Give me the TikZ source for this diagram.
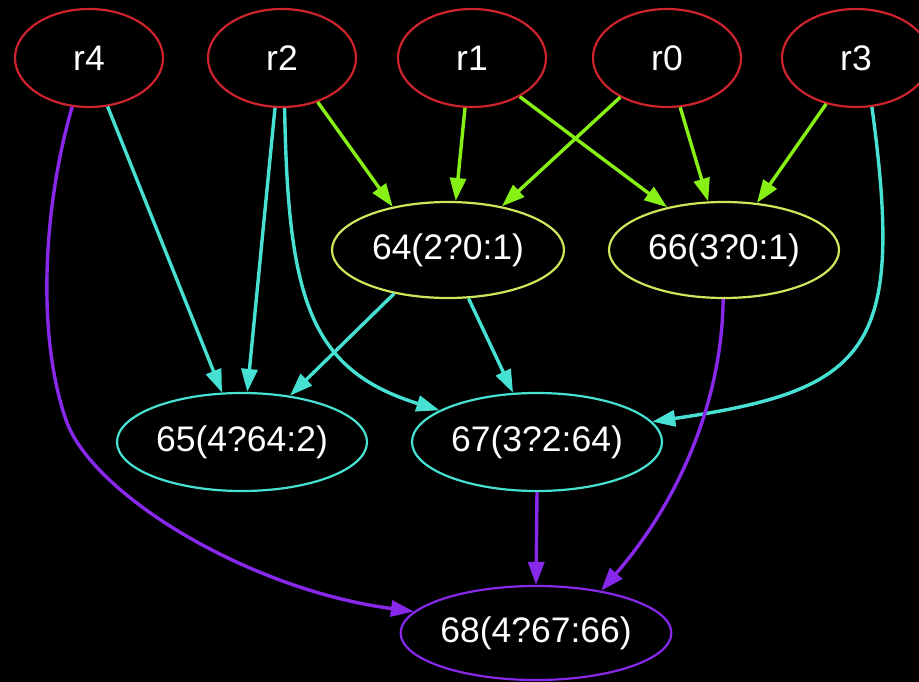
\documentclass[tikz,border=0pt]{standalone}
\usepackage{fontspec}
\setmainfont{Liberation Sans}
\usetikzlibrary{shapes.geometric,arrows.meta}
\definecolor{rcol}{RGB}{205,35,45}
\definecolor{ycol}{RGB}{205,230,90}
\definecolor{ccol}{RGB}{70,225,210}
\definecolor{pcol}{RGB}{135,40,235}
\definecolor{gcol}{RGB}{135,240,20}
\begin{document}
\begin{tikzpicture}[x=1pt,y=-1pt,
  nd/.style={ellipse, draw, line width=2.2pt, inner sep=0pt, text=white, font=\fontsize{35.5}{40}\selectfont},
  topn/.style={nd, draw=rcol, minimum width=148pt, minimum height=98pt},
  midn/.style={nd, draw=ycol, minimum height=96pt},
  lown/.style={nd, draw=ccol, minimum width=250pt, minimum height=98pt},
  botn/.style={nd, draw=pcol, minimum width=268pt, minimum height=94pt},
  edge/.style={line width=3.4pt, -{Triangle[length=23pt,width=16pt]}},
  ge/.style={edge, draw=gcol},
  ce/.style={edge, draw=ccol},
  pe/.style={edge, draw=pcol}
]
\fill[black] (0,0) rectangle (919,682);
\useasboundingbox (0,0) rectangle (919,682);

\node[topn] (r4) at (89,58) {r4};
\node[topn] (r2) at (282,58) {r2};
\node[topn] (r1) at (472,58) {r1};
\node[topn] (r0) at (667,58) {r0};
\node[topn] (r3) at (856,58) {r3};
\node[midn, minimum width=232pt] (n64) at (448,250) {64(2?0:1)};
\node[midn, minimum width=230pt] (n66) at (724,250) {66(3?0:1)};
\node[lown] (n65) at (242,442) {65(4?64:2)};
\node[lown] (n67) at (537,442) {67(3?2:64)};
\node[botn] (n68) at (536,633) {68(4?67:66)};
\coordinate (j1) at (66,420);

% green edges
\draw[ge] (r2.309) -- (n64.142);
\draw[ge] (r1.262) -- (n64.81);
\draw[ge] (r0.220) -- (n64.39);
\draw[ge] (r1.321) -- (n66.143);
\draw[ge] (r0.285) -- (n66.108);
\draw[ge] (r3.237) -- (n66.55);

% cyan edges
\draw[ce] (r4.291) -- (n65.112);
\draw[ce] (r2.262) -- (n65.84);
\draw[ce] (n64.219) -- (n65.44);
\draw[ce] (n64.293) -- (n67.116);
\draw[ce] (r2.273) .. controls (288,300) and (310,370) .. (n67.162);
\draw[ce] (r3.288) .. controls (905,350) and (870,390) .. (n67.10);

% purple edges
\draw[pe] (r4.251) .. controls (45,200) and (35,330) .. (j1) .. controls (92,495) and (250,590) .. (n68.170);
\draw[pe] (n66.269) .. controls (722,400) and (680,500) .. (n68.33);
\draw[pe] (n67.270) -- (n68.90);
\end{tikzpicture}
\end{document}
